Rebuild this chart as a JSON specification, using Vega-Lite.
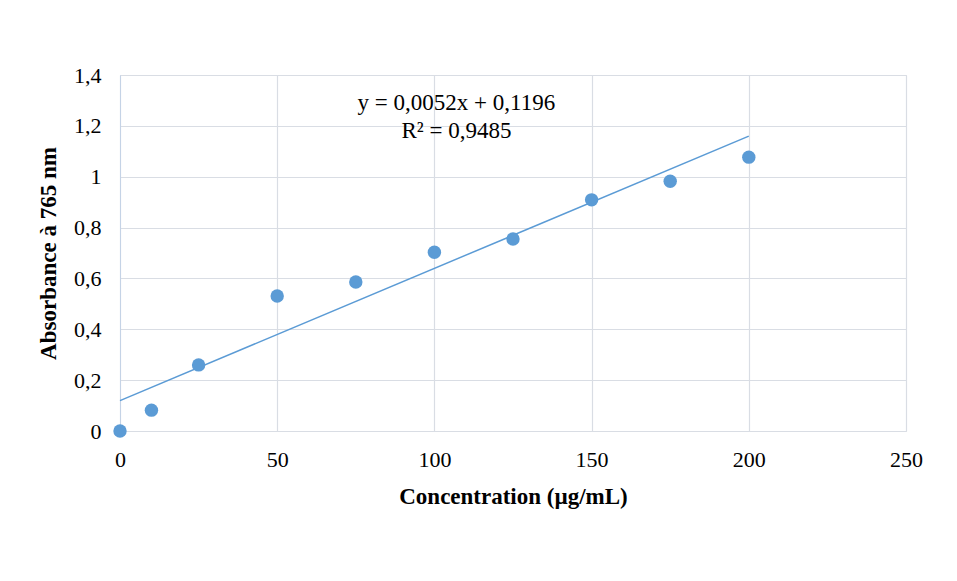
{
  "$schema": "https://vega.github.io/schema/vega-lite/v6.json",
  "width": 786,
  "height": 356,
  "autosize": "none",
  "padding": {"left": 120, "top": 75, "right": 51, "bottom": 150},
  "background": "white",
  "config": {
    "font": "Liberation Serif",
    "view": {"stroke": "#d9dde4", "strokeWidth": 1}
  },
  "datasets": {
    "pts": [
      {"conc": 0, "abs": 0.0},
      {"conc": 10, "abs": 0.082},
      {"conc": 25, "abs": 0.26},
      {"conc": 50, "abs": 0.531},
      {"conc": 75, "abs": 0.586},
      {"conc": 100, "abs": 0.703},
      {"conc": 125, "abs": 0.755},
      {"conc": 150, "abs": 0.909},
      {"conc": 175, "abs": 0.982},
      {"conc": 200, "abs": 1.077}
    ],
    "fit": [
      {"conc": 0, "abs": 0.1196},
      {"conc": 200, "abs": 1.1596}
    ],
    "eq": [
      {"conc": 107, "abs": 1.29, "label": "y = 0,0052x + 0,1196"},
      {"conc": 107, "abs": 1.18, "label": "R² = 0,9485"}
    ]
  },
  "layer": [
    {
      "data": {"name": "fit"},
      "mark": {"type": "line", "color": "#5b9bd5", "strokeWidth": 1.5},
      "encoding": {
        "x": {
          "field": "conc", "type": "quantitative",
          "scale": {"domain": [0, 250], "nice": false},
          "axis": {
            "values": [0, 50, 100, 150, 200, 250],
            "title": "Concentration (µg/mL)",
            "titleFontSize": 23, "titleFontWeight": "bold", "titleColor": "black",
            "titlePadding": 15,
            "labelFontSize": 22, "labelColor": "black", "labelPadding": 18,
            "labelFlush": false,
            "ticks": false, "domain": false,
            "grid": true, "gridColor": "#d9dde4", "gridWidth": 1.2
          }
        },
        "y": {
          "field": "abs", "type": "quantitative",
          "scale": {"domain": [0, 1.4], "nice": false},
          "axis": {
            "values": [0, 0.2, 0.4, 0.6, 0.8, 1, 1.2, 1.4],
            "labelExpr": "replace(format(datum.value, '.1~f'), '.', ',')",
            "labelFlush": false,
            "title": "Absorbance à 765 nm",
            "titleFontSize": 23, "titleFontWeight": "bold", "titleColor": "black",
            "titlePadding": 13,
            "labelFontSize": 22, "labelColor": "black", "labelPadding": 19,
            "ticks": false, "domain": true, "domainColor": "#c5d3e6",
            "grid": true, "gridColor": "#d9dde4", "gridWidth": 1.2
          }
        }
      }
    },
    {
      "data": {"name": "pts"},
      "mark": {"type": "circle", "color": "#5b9bd5", "opacity": 1, "size": 180},
      "encoding": {
        "x": {"field": "conc", "type": "quantitative"},
        "y": {"field": "abs", "type": "quantitative"}
      }
    },
    {
      "data": {"name": "eq"},
      "mark": {"type": "text", "fontSize": 23, "color": "black", "align": "center", "baseline": "middle"},
      "encoding": {
        "x": {"field": "conc", "type": "quantitative"},
        "y": {"field": "abs", "type": "quantitative"},
        "text": {"field": "label"}
      }
    }
  ]
}
